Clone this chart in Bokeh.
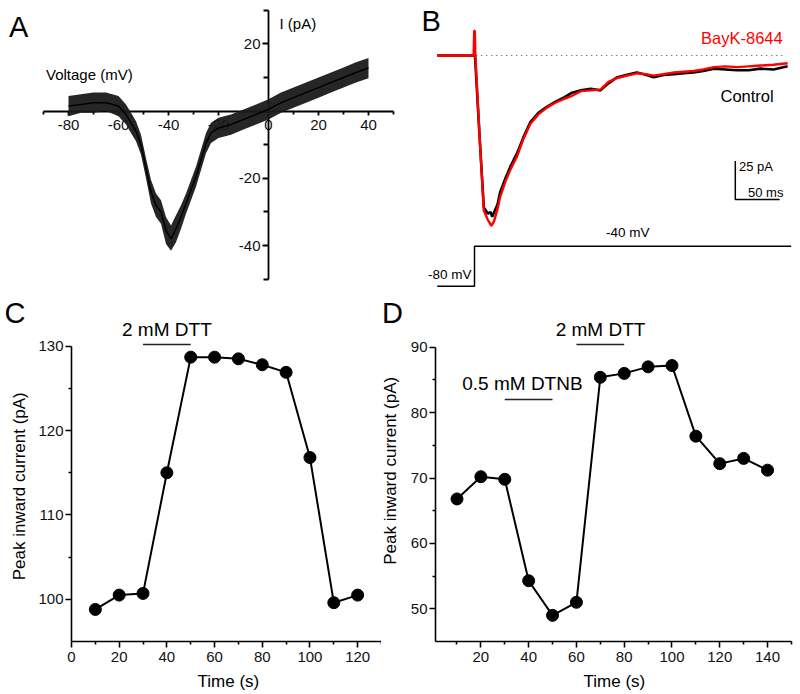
from bokeh.plotting import figure
from bokeh.models import LinearAxis, FixedTicker, Range1d, Label
from bokeh.layouts import row, column
from bokeh.embed import file_html
from bokeh.resources import INLINE

FONT = "Liberation Sans"

# ---------------- Panel A: I-V relation (ramp) ----------------
iv_voltage = [-80, -75, -70, -65, -60, -57, -55, -53, -51, -49, -47, -45, -43, -41, -39, -37,
              -35, -33, -31, -29, -27, -25, -23, -20, -15, -10, -5, 0, 5, 10, 15, 20, 25, 30, 35, 40]
iv_current = [1.5, 2, 2.5, 2.5, 1.5, -1, -3.5, -6, -10, -17, -24, -28, -30, -35.5, -38, -35,
              -31.5, -27.5, -23.5, -19.5, -14.5, -9.5, -6.5, -5, -4, -2.5, -1, 0.5, 2.5, 4, 5.5, 7, 8.5, 10, 11.5, 12.8]
iv_current_low = [-1.5, -0.5, -0.5, 0, -1.5, -4, -6.5, -9, -13, -20, -27.5, -31.5, -33.5, -39.5, -41.5, -39,
                  -35, -30.5, -26.5, -22.5, -17.5, -12.5, -9.5, -8, -7, -5.5, -4, -2.5, -0.5, 1, 2.5, 4, 5.5, 7, 8.5, 9.8]
iv_current_high = [4.5, 5, 5.5, 5.5, 4.5, 2, -0.5, -3, -7, -14, -20.5, -24.5, -26.5, -31.5, -34, -31,
                   -28, -24.5, -20.5, -16.5, -11.5, -6.5, -3.5, -2, -1, 0.5, 2, 3.5, 5.5, 7, 8.5, 10, 11.5, 13, 14.5, 15.8]
iv_x_ticks = [-80, -60, -40, -20, 0, 20, 40]
iv_x_minor = [-90, -70, -50, -30, -10, 10, 30, 50]
iv_y_ticks = [-40, -20, 0, 20]
iv_y_minor = [-50, -30, -10, 10, 30]

# ---------------- Panel B: current traces ----------------
ctrl_time = [-42, -1, 0.5, 6, 10.5, 15, 18, 20, 23, 26, 29, 35, 41, 48, 55, 63, 72, 82, 91, 101, 110, 120,
             131, 142, 151, 161, 172, 183, 193, 202, 213, 225, 236, 247, 258, 270, 283, 296, 309, 322, 337, 353]
ctrl_current = [0, 0, 0, -55, -98, -102, -101, -104, -100, -96, -88, -79, -71, -63, -53, -43, -37, -33, -30,
                -27, -24, -22.5, -21.5, -22.5, -18, -14, -12.5, -11, -12.5, -14, -12.5, -12, -11.5, -11, -10,
                -8.5, -9, -9.5, -9.5, -8.5, -9, -7]
bayk_time = [-42, -1, -0.3, 0.3, 1, 6, 10.5, 15, 19, 22, 26, 29, 35, 41, 48, 55, 63, 72, 82, 91, 101, 110,
             120, 131, 142, 151, 161, 172, 183, 193, 202, 213, 225, 236, 247, 258, 270, 283, 296, 309, 322, 337, 353]
bayk_current = [0, 0, 16, 16, 0, -55, -100, -106, -110, -107, -99, -91, -81, -73, -65, -54, -44, -38, -33.5,
                -30.5, -28, -26, -23, -22.5, -22, -17, -14.5, -13, -11.5, -12, -13, -12, -11, -10.5, -10, -9,
                -7.5, -7, -7.5, -7, -6.5, -6, -5]
baseline_time = [2, 351]
baseline_current = [0, 0]
step_time = [-42, 0, 0, 357]
step_voltage = [-80, -80, -40, -40]
scalebar_time = [294, 294, 344]       # 50 ms horizontal
scalebar_current = [-68, -93, -93]    # 25 pA vertical

# ---------------- Panel C ----------------
c_time = [10, 20, 30, 40, 50, 60, 70, 80, 90, 100, 110, 120]
c_current = [98.8, 100.5, 100.7, 115.0, 128.7, 128.7, 128.5, 127.8, 126.9, 116.8, 99.6, 100.5]
c_dtt_window = [30, 50]
c_dtt_level = [130.2, 130.2]
c_x_ticks = [0, 20, 40, 60, 80, 100, 120]
c_x_minor = [10, 30, 50, 70, 90, 110, 130]
c_y_ticks = [100, 110, 120, 130]
c_y_minor = [105, 115, 125]

# ---------------- Panel D ----------------
d_time = [10, 20, 30, 40, 50, 60, 70, 80, 90, 100, 110, 120, 130, 140]
d_current = [66.8, 70.2, 69.8, 54.3, 49.0, 51.0, 85.4, 86.0, 87.0, 87.2, 76.4, 72.2, 73.0, 71.2]
d_dtnb_window = [30, 50]
d_dtnb_level = [82, 82]
d_dtt_window = [60, 80]
d_dtt_level = [90.4, 90.4]
d_x_ticks = [20, 40, 60, 80, 100, 120, 140]
d_x_minor = [10, 30, 50, 70, 90, 110, 130, 150]
d_y_ticks = [50, 60, 70, 80, 90]
d_y_minor = [55, 65, 75, 85]


def hyphen_labels(ticks, hide=()):
    out = {}
    for t in ticks:
        out[t] = "" if t in hide else str(t)
    return out


def base_fig(**kw):
    p = figure(output_backend="svg", toolbar_location=None, x_axis_type=None, y_axis_type=None,
               min_border=0, **kw)
    p.outline_line_color = None
    p.background_fill_color = "white"
    p.border_fill_color = "white"
    return p


def txt(p, x, y, text, size, align="left", angle=0, color="black", baseline="middle"):
    p.add_layout(Label(x=x, y=y, text=text, text_font=FONT, text_font_size=f"{size}px",
                       text_align=align, text_baseline=baseline, angle=angle, text_color=color))


def add_axis(p, side, loc, bounds, ticks, minor, tick_out=6, minor_out=3, standoff=3, width=1.6,
             label_size=15, hide=(), level=None):
    ax = LinearAxis(fixed_location=loc, bounds=bounds,
                    ticker=FixedTicker(ticks=ticks, minor_ticks=minor),
                    major_label_overrides=hyphen_labels(ticks, hide))
    ax.axis_line_width = width
    ax.axis_line_color = "black"
    ax.major_tick_line_width = width
    ax.minor_tick_line_width = width
    ax.major_tick_line_color = "black"
    ax.minor_tick_line_color = "black"
    ax.major_tick_out = tick_out
    ax.major_tick_in = 0
    ax.minor_tick_out = minor_out
    ax.minor_tick_in = 0
    ax.major_label_text_font = FONT
    ax.major_label_text_font_size = f"{label_size}px"
    ax.major_label_text_color = "#111111"
    ax.major_label_standoff = standoff
    if level:
        ax.level = level
    p.add_layout(ax, side)
    return ax


# ---------- A ----------
pa = base_fig(width=420, height=298, x_range=Range1d(-107.2, 60.8), y_range=Range1d(-55.74, 32.9))
add_axis(pa, "below", 0, (-90, 50), iv_x_ticks, iv_x_minor, tick_out=4, minor_out=3, standoff=5,
         width=1.8, level="underlay")
add_axis(pa, "left", 0, (-50, 30), iv_y_ticks, iv_y_minor, tick_out=6, minor_out=5, standoff=2,
         width=1.8, hide=(0,), level="underlay")
pa.varea(x=iv_voltage, y1=iv_current_low, y2=iv_current_high, fill_color="#1a1a1a", fill_alpha=0.95)
pa.line(iv_voltage, iv_current, line_color="black", line_width=1.5)
txt(pa, -103.8, 25.0, "A", 29)
txt(pa, -89.0, 11.0, "Voltage (mV)", 15)
txt(pa, 4.4, 26.2, "I (pA)", 15)

# ---------- B ----------
pb = base_fig(width=380, height=298, x_range=Range1d(-60.88, 367.5), y_range=Range1d(-156.8, 35.48))
pb.extra_y_ranges = {"mV": Range1d(-92.3, 205.7)}
pb.line(baseline_time, baseline_current, line_color="#444444", line_width=1, line_dash="1 4")
pb.line(ctrl_time, ctrl_current, line_color="black", line_width=2.6)
pb.line(bayk_time, bayk_current, line_color="red", line_width=2.4)
pb.line(step_time, step_voltage, y_range_name="mV", line_color="black", line_width=1.5)
pb.line(scalebar_time, scalebar_current, line_color="black", line_width=1.5)
txt(pb, -59.7, 22.1, "B", 29)
txt(pb, 255.4, 11.2, "BayK-8644", 16.5, color="red")
txt(pb, 277.3, -26.3, "Control", 16.5)
txt(pb, 298.2, -71.6, "25 pA", 13)
txt(pb, 308.3, -88.2, "50 ms", 13)
txt(pb, 172.8, -114.4, "-40 mV", 13.5, align="center")
txt(pb, -52.4, -141.5, "-80 mV", 13.5)

# ---------- C ----------
pc = base_fig(width=381, height=396, x_range=Range1d(-29.77, 130.0), y_range=Range1d(88.72, 135.65))
add_axis(pc, "below", 95, (0, 130), c_x_ticks, c_x_minor, tick_out=6, minor_out=3, standoff=4)
add_axis(pc, "left", 0, (95, 130), c_y_ticks, c_y_minor, tick_out=6, minor_out=3, standoff=2)
pc.line(c_dtt_window, c_dtt_level, line_color="#222222", line_width=1.5)
pc.line(c_time, c_current, line_color="black", line_width=2)
pc.scatter(c_time, c_current, size=12, fill_color="black", line_color="black")
txt(pc, 40, 131.95, "2 mM DTT", 19, align="center")
txt(pc, -28.1, 133.9, "C", 29)
txt(pc, 65.8, 90.3, "Time (s)", 17, align="center")
txt(pc, -21.9, 113.4, "Peak inward current (pA)", 17, align="center", angle=1.5708)

# ---------- D ----------
pd_ = base_fig(width=419, height=396, x_range=Range1d(-21.6, 153.8), y_range=Range1d(36.9, 97.45))
add_axis(pd_, "below", 45, (1, 150), d_x_ticks, d_x_minor, tick_out=6, minor_out=3, standoff=4)
add_axis(pd_, "left", 1, (45, 90), d_y_ticks, d_y_minor, tick_out=6, minor_out=3, standoff=2)
pd_.line(d_dtnb_window, d_dtnb_level, line_color="#222222", line_width=1.5)
pd_.line(d_dtt_window, d_dtt_level, line_color="#222222", line_width=1.5)
pd_.line(d_time, d_current, line_color="black", line_width=2)
pd_.scatter(d_time, d_current, size=12, fill_color="black", line_color="black")
txt(pd_, 37.4, 84.4, "0.5 mM DTNB", 19, align="center")
txt(pd_, 70.1, 92.7, "2 mM DTT", 19, align="center")
txt(pd_, -21.4, 95.3, "D", 29)
txt(pd_, 75.9, 38.9, "Time (s)", 17, align="center")
txt(pd_, -18.0, 71.1, "Peak inward current (pA)", 17, align="center", angle=1.5708)

layout = column(row(pa, pb), row(pc, pd_))
open("out.html", "w").write(file_html(layout, INLINE))
